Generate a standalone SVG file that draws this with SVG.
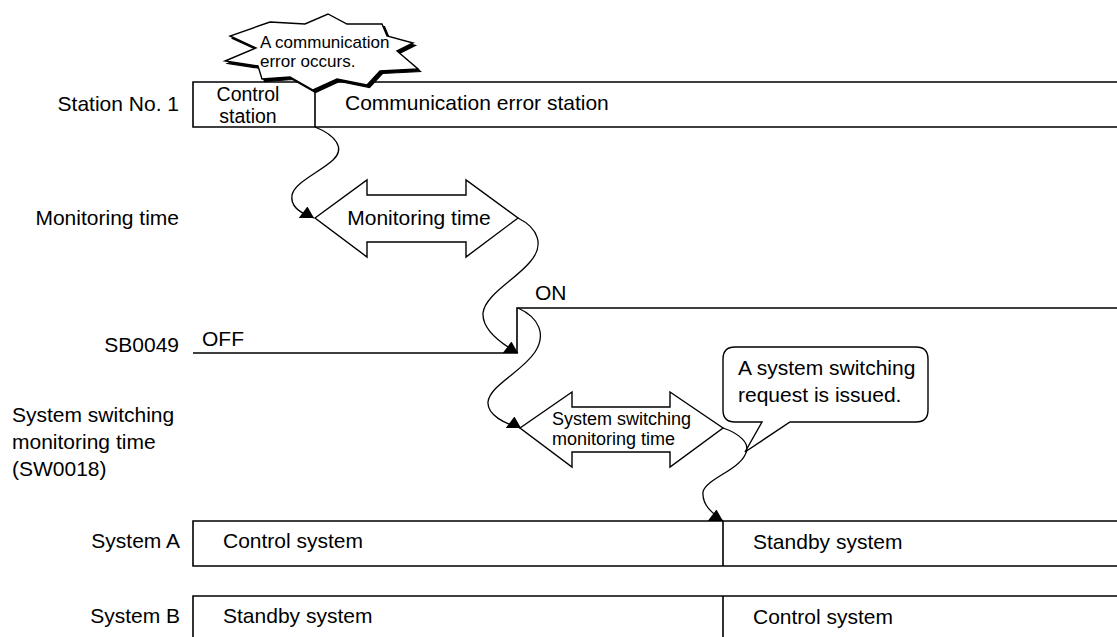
<svg xmlns="http://www.w3.org/2000/svg" width="1117" height="637" viewBox="0 0 1117 637">
<defs>
<style>
text{font-family:"Liberation Sans",Arial,sans-serif;fill:#000;font-size:21px}
.r{text-anchor:end}
.m{text-anchor:middle}
.s{font-size:17px}
.s18{font-size:18px}
.cs{font-size:19.5px}
.ln{fill:none;stroke:#000;stroke-width:1.6}
.sh{fill:#fff;stroke:#000;stroke-width:1.4;stroke-linejoin:miter}
.cv{fill:none;stroke:#000;stroke-width:1.3;marker-end:url(#tri)}
</style>
<marker id="tri" markerUnits="userSpaceOnUse" markerWidth="16" markerHeight="12" viewBox="0 0 14 11" refX="14" refY="10.5" orient="0">
<path d="M0,10.5 L14,10.5 L8,0 Z" fill="#000"/>
</marker>
</defs>

<g id="labels">
<text class="r" x="179" y="111">Station No. 1</text>
<text class="r" x="179" y="225">Monitoring time</text>
<text class="r" x="179" y="352">SB0049</text>
<text x="12" y="422">System switching</text>
<text x="12" y="449">monitoring time</text>
<text x="12" y="476">(SW0018)</text>
<text class="r" x="180" y="548">System A</text>
<text class="r" x="180" y="623">System B</text>
</g>

<g id="station1">
<path class="ln" d="M1117,82 H193 V127 H1117 M315,82 V127"/>
<text class="m cs" x="248" y="101">Control</text>
<text class="m cs" x="248" y="123">station</text>
<text x="345" y="110">Communication error station</text>
</g>

<g id="burst">
<polygon transform="translate(2.5,2.5)" fill="#000" stroke="#000" stroke-width="1.2" points="270,22 305,24 328,14 347,24 382,24 387,36 413,43 397,51 418,69 380,71 367,85 337,79 313,90 290,77 262,79 258,66 225,61 256,48 230,36"/>
<polygon class="sh" points="270,22 305,24 328,14 347,24 382,24 387,36 413,43 397,51 418,69 380,71 367,85 337,79 313,90 290,77 262,79 258,66 225,61 256,48 230,36"/>
<text class="s" x="260" y="48">A communication</text>
<text class="s" x="260" y="67">error occurs.</text>
</g>

<g id="monitoring-arrow">
<polygon class="sh" points="315,218 367,180 367,195 466,195 466,180 518,218 466,257 466,242 367,242 367,257"/>
<text class="m" x="419" y="225">Monitoring time</text>
</g>

<g id="sb0049">
<path class="ln" d="M193,353 H517 V308 H1117"/>
<text x="202" y="346">OFF</text>
<text x="535" y="300">ON</text>
</g>

<g id="switch-arrow">
<polygon class="sh" points="520,428 572,392 572,407 670,407 670,392 723,428 670,467 670,452 572,452 572,467"/>
<text class="s18" x="552" y="425">System switching</text>
<text class="s18" x="552" y="445">monitoring time</text>
</g>

<g id="bubble">
<path class="sh" d="M735,347 H916 Q928,347 928,359 V410 Q928,422 916,422 H790 L745,452 L762,422 H735 Q723,422 723,410 V359 Q723,347 735,347 Z"/>
<text x="738" y="375">A system switching</text>
<text x="738" y="402">request is issued.</text>
</g>

<g id="systemA">
<path class="ln" d="M1117,521 H193 V566 H1117 M723,521 V566"/>
<text x="223" y="548">Control system</text>
<text x="753" y="549">Standby system</text>
</g>

<g id="systemB">
<path class="ln" d="M1117,596 H193 V637 M723,596 V637"/>
<text x="223" y="623">Standby system</text>
<text x="753" y="624">Control system</text>
</g>

<g id="connectors">
<path class="cv" d="M315,127 C335,135 346,148 333,160 C320,172 295,182 292,195 C290,207 302,214 314,218"/>
<path class="cv" d="M518,218 C538,228 545,245 530,262 C515,280 485,295 483,313 C482,330 500,343 518,353"/>
<path class="cv" d="M518,308 C540,318 546,335 535,352 C522,372 490,385 488,402 C487,415 505,424 521,428"/>
<path class="cv" d="M723,428 C738,433 752,443 745,455 C738,470 705,480 703,492 C702,505 712,513 723,521"/>
</g>
</svg>
